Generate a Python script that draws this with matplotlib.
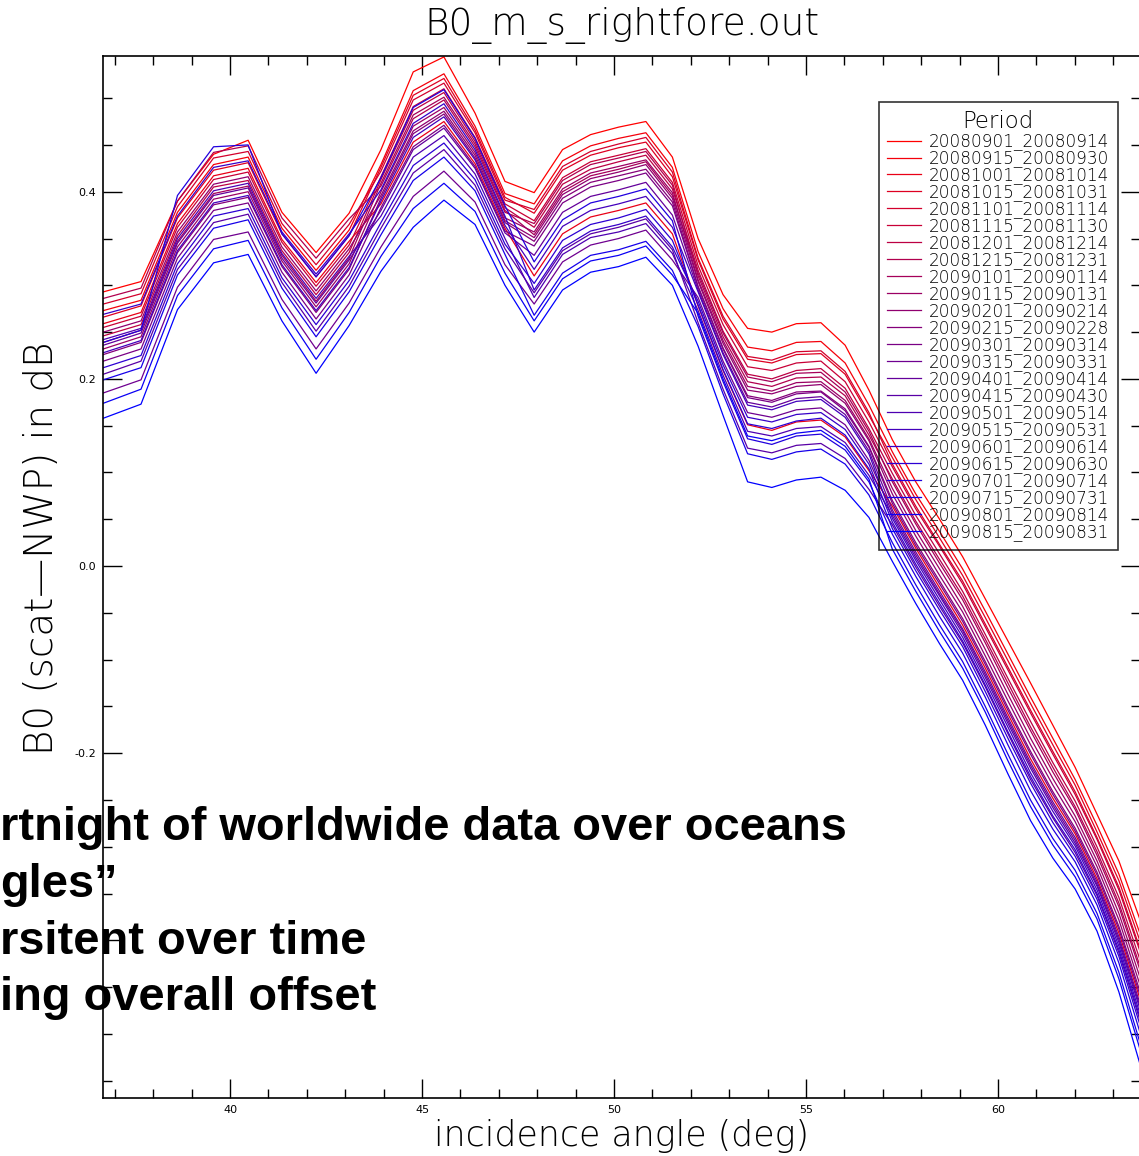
import matplotlib
matplotlib.use("Agg")
import matplotlib.pyplot as plt
from matplotlib.ticker import MultipleLocator, FuncFormatter

plt.rcParams['axes.unicode_minus'] = False

# ---------------- data ----------------
angles = [36.70, 37.68, 38.63, 39.57, 40.47, 41.35, 42.24, 43.10, 43.93, 44.77,
          45.57, 46.38, 47.16, 47.92, 48.66, 49.39, 50.12, 50.83, 51.52, 52.19,
          52.84, 53.48, 54.11, 54.75, 55.39, 56.02, 56.64, 57.25, 57.86, 58.48,
          59.08, 59.67, 60.26, 60.85, 61.43, 62.01, 62.58, 63.15, 63.72]

periods = ["20080901_20080914", "20080915_20080930", "20081001_20081014",
           "20081015_20081031", "20081101_20081114", "20081115_20081130",
           "20081201_20081214", "20081215_20081231", "20090101_20090114",
           "20090115_20090131", "20090201_20090214", "20090215_20090228",
           "20090301_20090314", "20090315_20090331", "20090401_20090414",
           "20090415_20090430", "20090501_20090514", "20090515_20090531",
           "20090601_20090614", "20090615_20090630", "20090701_20090714",
           "20090715_20090731", "20090801_20090814", "20090815_20090831"]

p01 = [.293,.304,.390,.440,.455,.378,.335,.377,.445,.528,.544,.484,.411,.399,.445,.461,.469,.475,.437,.350,.290,.254,.250,.259,.260,.236,.188,.135,.090,.050,.010,-.035,-.080,-.125,-.170,-.215,-.265,-.315,-.380]
p02 = [.273,.284,.378,.429,.437,.361,.316,.359,.429,.508,.526,.470,.398,.387,.433,.449,.457,.463,.426,.336,.275,.234,.230,.239,.240,.217,.172,.122,.077,.037,-.003,-.048,-.094,-.140,-.184,-.228,-.277,-.329,-.395]
p03 = [.259,.271,.366,.417,.425,.349,.303,.347,.387,.453,.475,.430,.361,.310,.355,.373,.380,.388,.355,.278,.209,.151,.145,.154,.156,.138,.102,.064,.019,-.023,-.063,-.109,-.158,-.206,-.248,-.286,-.334,-.392,-.465]
p04 = [.266,.278,.372,.423,.431,.355,.309,.353,.426,.503,.521,.466,.394,.377,.423,.439,.447,.453,.416,.327,.264,.221,.217,.226,.227,.205,.161,.116,.071,.030,-.010,-.055,-.101,-.147,-.191,-.234,-.284,-.336,-.403]
p05 = [.280,.291,.384,.436,.443,.366,.322,.365,.422,.498,.516,.463,.391,.381,.427,.443,.451,.458,.421,.329,.267,.224,.220,.229,.230,.208,.164,.109,.064,.023,-.016,-.062,-.108,-.154,-.198,-.241,-.290,-.343,-.411]
p06 = [.255,.267,.362,.413,.421,.346,.299,.343,.416,.491,.510,.458,.387,.369,.415,.432,.439,.446,.410,.321,.258,.213,.209,.217,.219,.197,.154,.106,.061,.021,-.019,-.065,-.111,-.157,-.201,-.244,-.292,-.346,-.414]
p07 = [.246,.258,.353,.405,.412,.337,.290,.335,.413,.487,.506,.454,.383,.362,.408,.424,.432,.439,.403,.316,.251,.205,.200,.209,.211,.190,.147,.099,.054,.013,-.027,-.073,-.120,-.166,-.210,-.251,-.300,-.354,-.423]
p08 = [.286,.297,.390,.442,.449,.372,.329,.371,.406,.478,.498,.448,.378,.366,.412,.429,.436,.443,.407,.310,.245,.197,.192,.201,.202,.182,.140,.093,.048,.007,-.032,-.078,-.125,-.172,-.215,-.257,-.305,-.360,-.430]
p09 = [.239,.252,.347,.398,.406,.332,.283,.329,.409,.482,.501,.451,.380,.354,.400,.417,.424,.432,.396,.313,.249,.202,.197,.206,.207,.186,.144,.090,.045,.003,-.036,-.082,-.130,-.176,-.220,-.260,-.309,-.364,-.434]
p10 = [.232,.245,.341,.392,.400,.326,.277,.323,.400,.470,.490,.442,.372,.357,.403,.420,.427,.434,.399,.306,.241,.192,.187,.196,.197,.177,.136,.083,.038,-.003,-.043,-.089,-.137,-.184,-.227,-.267,-.315,-.371,-.442]
p11 = [.250,.262,.357,.408,.416,.341,.294,.339,.396,.465,.486,.439,.369,.351,.397,.414,.421,.429,.393,.304,.238,.188,.184,.192,.194,.174,.134,.077,.032,-.010,-.049,-.096,-.144,-.191,-.234,-.273,-.321,-.378,-.450]
p12 = [.226,.239,.335,.386,.394,.320,.271,.317,.393,.462,.483,.436,.367,.347,.393,.410,.417,.424,.389,.299,.233,.182,.177,.186,.187,.168,.128,.070,.025,-.016,-.056,-.102,-.151,-.198,-.241,-.280,-.327,-.385,-.457]
p13 = [.219,.232,.329,.380,.388,.314,.264,.311,.383,.448,.471,.427,.358,.342,.388,.405,.412,.420,.385,.298,.232,.180,.175,.184,.186,.166,.127,.067,.022,-.019,-.059,-.105,-.154,-.201,-.244,-.283,-.330,-.388,-.461]
p14 = [.185,.199,.298,.349,.357,.285,.232,.281,.341,.395,.422,.389,.322,.280,.325,.343,.350,.359,.327,.287,.219,.164,.159,.167,.169,.151,.113,.057,.012,-.030,-.069,-.116,-.165,-.213,-.255,-.293,-.340,-.399,-.473]
p15 = [.236,.249,.345,.396,.404,.329,.281,.327,.380,.445,.468,.425,.356,.332,.378,.395,.402,.410,.375,.295,.228,.175,.170,.179,.181,.162,.123,.060,.015,-.027,-.067,-.113,-.162,-.210,-.252,-.290,-.337,-.396,-.470]
p16 = [.205,.219,.317,.367,.376,.303,.251,.299,.361,.420,.445,.407,.339,.292,.337,.355,.362,.371,.338,.260,.189,.126,.121,.129,.131,.115,.082,.044,-.001,-.043,-.082,-.129,-.179,-.228,-.269,-.306,-.352,-.413,-.488]
p17 = [.242,.254,.350,.401,.409,.334,.286,.331,.374,.437,.460,.419,.350,.287,.333,.351,.357,.366,.334,.273,.204,.144,.139,.147,.149,.132,.097,.054,.009,-.032,-.072,-.119,-.168,-.216,-.258,-.296,-.342,-.402,-.476]
p18 = [.228,.241,.337,.388,.396,.322,.273,.319,.390,.458,.480,.434,.364,.317,.363,.380,.387,.395,.362,.293,.226,.172,.167,.176,.178,.159,.120,.051,.006,-.036,-.076,-.123,-.172,-.221,-.262,-.299,-.346,-.406,-.481]
p19 = [.269,.280,.374,.426,.433,.357,.312,.355,.402,.473,.494,.445,.374,.295,.340,.358,.365,.374,.341,.283,.215,.159,.154,.162,.164,.146,.109,.047,.002,-.040,-.080,-.127,-.177,-.225,-.267,-.303,-.350,-.410,-.485]
p20 = [.212,.225,.323,.374,.382,.308,.258,.305,.367,.428,.452,.413,.344,.302,.348,.365,.372,.381,.348,.279,.210,.152,.147,.155,.158,.140,.104,.040,-.005,-.047,-.086,-.134,-.184,-.232,-.274,-.310,-.356,-.417,-.493]
p21 = [.239,.252,.396,.448,.450,.355,.309,.353,.415,.490,.509,.457,.385,.325,.370,.388,.395,.403,.369,.267,.197,.136,.130,.139,.141,.124,.090,.034,-.011,-.054,-.093,-.140,-.191,-.240,-.281,-.316,-.362,-.424,-.501]
p22 = [.199,.212,.311,.361,.370,.297,.245,.293,.354,.412,.437,.401,.333,.268,.313,.332,.338,.347,.316,.256,.184,.120,.114,.122,.125,.109,.076,.025,-.020,-.063,-.102,-.150,-.201,-.250,-.291,-.325,-.371,-.434,-.512]
p23 = [.174,.189,.289,.339,.348,.276,.221,.271,.331,.382,.409,.379,.313,.262,.307,.326,.332,.342,.311,.270,.200,.139,.134,.142,.145,.128,.093,.018,-.027,-.070,-.109,-.156,-.208,-.257,-.298,-.332,-.377,-.441,-.519]
p24 = [.158,.173,.274,.324,.333,.262,.206,.257,.315,.362,.391,.365,.300,.250,.295,.314,.320,.330,.300,.235,.161,.090,.084,.092,.095,.081,.052,.005,-.040,-.083,-.122,-.170,-.222,-.272,-.312,-.345,-.390,-.455,-.535]

series = [p01, p02, p03, p04, p05, p06, p07, p08, p09, p10, p11, p12,
          p13, p14, p15, p16, p17, p18, p19, p20, p21, p22, p23, p24]

overlay_lines = ["rtnight of worldwide data over oceans",
                 "gles\u201d",
                 "rsitent over time",
                 "ing overall offset"]

# ---------------- figure ----------------
W, H = 1139, 1156
fig = plt.figure(figsize=(W / 100, H / 100), dpi=100)
ax = fig.add_axes([103 / W, 1 - 1097.7 / H, (1140 - 103) / W, (1097.7 - 56) / H])

n = len(series)
for i, (lab, ys) in enumerate(zip(periods, series)):
    t = i / (n - 1)
    ax.plot(angles, ys, color=(1 - t, 0, t), lw=0.9, label=lab)

ax.set_xlim(36.69, 63.70)
ax.set_ylim(-0.568, 0.545)
ax.xaxis.set_major_locator(MultipleLocator(5))
ax.xaxis.set_minor_locator(MultipleLocator(1))
ax.yaxis.set_major_locator(MultipleLocator(0.2))
ax.yaxis.set_minor_locator(MultipleLocator(0.05))


def yfmt(v, pos):
    if abs(v) < 1e-9:
        return "0.0"
    if v < -0.3:
        return ""   # hidden under the overlaid text in the reference
    return f"{v:.1f}"


ax.yaxis.set_major_formatter(FuncFormatter(yfmt))
ax.xaxis.set_major_formatter(FuncFormatter(lambda v, p: f"{v:.0f}"))
ax.tick_params(which='both', direction='in', top=True, right=True,
               width=1.0, color='black')
ax.tick_params(which='major', length=13.5, labelsize=8, pad=5)
ax.tick_params(which='minor', length=6.5)
for sp in ax.spines.values():
    sp.set_linewidth(1.2)

light = dict(family='DejaVu Sans', weight=200, color='black')
fig.text(621.5 / W, 1 - 25 / H, "B0_m_s_rightfore.out", ha='center', va='center',
         fontsize=27, **light)
fig.text(622 / W, 1 - 1146 / H, "incidence angle (deg)", ha='center', va='baseline',
         fontsize=25, **light)
fig.text(42 / W, 1 - 548 / H, "B0 (scat\u2014NWP) in dB", ha='center', va='center',
         rotation=90, fontsize=28, **light)

leg = ax.legend(loc='upper left', bbox_to_anchor=(879 / W, 1 - 102 / H),
                bbox_transform=fig.transFigure, borderaxespad=0,
                title='Period', fontsize=12.2, title_fontsize=16.5,
                frameon=True, fancybox=False, edgecolor='black',
                facecolor='none', handlelength=2.0, handletextpad=0.45,
                labelspacing=-0.06, borderpad=0.5)
leg.get_frame().set_linewidth(1.2)
for txt in leg.get_texts():
    txt.set_fontweight(200)
leg.get_title().set_fontweight(200)

bold = dict(family='Liberation Sans', weight='bold', fontsize=33.8, color='black')
baselines = [840, 897, 954, 1010]
for txt, yb in zip(overlay_lines, baselines):
    fig.text(0, 1 - yb / H, txt, ha='left', va='baseline', **bold)

fig.savefig("out.png", dpi=100)
